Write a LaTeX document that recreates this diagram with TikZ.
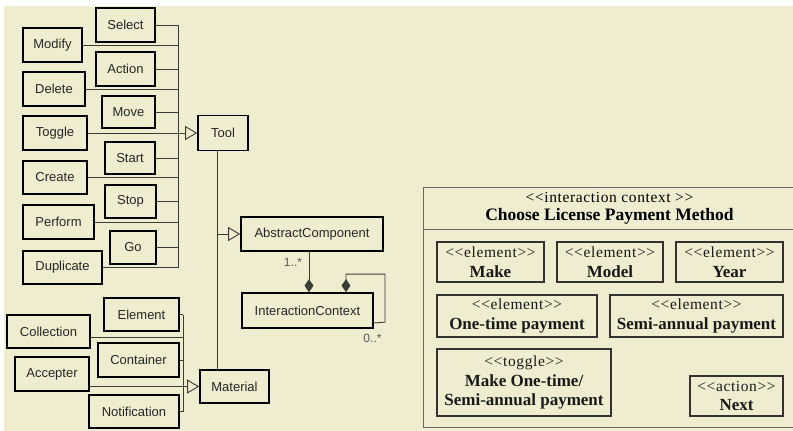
\documentclass[tikz,border=0pt]{standalone}
\usepackage{fontspec}
\setmainfont{Liberation Serif}
\setsansfont{Liberation Sans}
\newfontfamily\stereofont[LetterSpace=4]{Liberation Serif}
\usetikzlibrary{arrows.meta}
\definecolor{bgbeige}{RGB}{238,237,208}
\definecolor{linegray}{RGB}{60,60,55}
\newcommand{\stf}{\stereofont\fontsize{15.5}{20}\selectfont}
\newcommand{\nmf}{\rmfamily\bfseries\fontsize{17}{20}\selectfont}
\begin{document}
\begin{tikzpicture}[x=1pt,y=-1pt,
  umlbox/.style={draw=black, line width=1.7pt, inner sep=0pt, text=black!85,
    font=\sffamily\fontsize{13}{15}\selectfont},
  panelbox/.style={draw=black!80, line width=1.1pt, inner sep=0pt, align=center, text=black!90,
    font=\rmfamily\fontsize{17}{20.5}\selectfont},
  panelframe/.style={draw=black!60, line width=1pt, inner sep=0pt, anchor=north west},
  conn/.style={draw=linegray, line width=0.9pt},
  gen/.style={conn, -{Triangle[open, length=12pt, width=14pt]}},
  comp/.style={conn, {Diamond[length=13pt, width=9pt]}-},
  mult/.style={inner sep=0pt, text=black!65, font=\sffamily\fontsize{12}{14}\selectfont}
]
\useasboundingbox (0,0) rectangle (793,431);
\fill[white] (0,0) rectangle (793,431);
\fill[bgbeige] (4,6) rectangle (793,431);

% ---- Tool group ----
\node[umlbox, minimum width=59pt, minimum height=34pt] (select) at (125.5,25) {Select};
\node[umlbox, minimum width=59pt, minimum height=34pt] (modify) at (52.5,45) {Modify};
\node[umlbox, minimum width=59pt, minimum height=34pt] (action) at (125.5,69) {Action};
\node[umlbox, minimum width=62pt, minimum height=34pt] (delete) at (54,89) {Delete};
\node[umlbox, minimum width=53pt, minimum height=32pt] (move) at (128.5,112) {Move};
\node[umlbox, minimum width=64pt, minimum height=34pt] (toggle) at (55,133) {Toggle};
\node[umlbox, minimum width=50pt, minimum height=35pt] (tool) at (223,133) {Tool};
\node[umlbox, minimum width=50pt, minimum height=32pt] (start) at (130,158) {Start};
\node[umlbox, minimum width=64pt, minimum height=33pt] (create) at (55,177.5) {Create};
\node[umlbox, minimum width=51pt, minimum height=33pt] (stop) at (130.5,201.5) {Stop};
\node[umlbox, minimum width=71pt, minimum height=34pt] (perform) at (58.5,222) {Perform};
\node[umlbox, minimum width=46pt, minimum height=33pt] (go) at (133,247.5) {Go};
\node[umlbox, minimum width=79pt, minimum height=33pt] (duplicate) at (62.5,267.5) {Duplicate};

\coordinate (bus) at (178,0);
\foreach \n in {select,modify,action,delete,move,start,create,stop,perform,go,duplicate}
  \draw[conn] (\n.east) -- (\n.east -| bus);
\draw[conn] (select.east -| bus) -- (duplicate.east -| bus);
\draw[gen] (toggle.east) -- (tool.west);

% ---- Material group ----
\node[umlbox, minimum width=75pt, minimum height=33pt] (element) at (141.5,314.5) {Element};
\node[umlbox, minimum width=83pt, minimum height=33pt] (collection) at (48.5,331.5) {Collection};
\node[umlbox, minimum width=81pt, minimum height=34pt] (container) at (138.5,360) {Container};
\node[umlbox, minimum width=74pt, minimum height=34pt] (accepter) at (52,374) {Accepter};
\node[umlbox, minimum width=69pt, minimum height=33pt] (material) at (234.5,386.5) {Material};
\node[umlbox, minimum width=90pt, minimum height=33pt] (notification) at (134,411.5) {Notification};

\coordinate (mbus) at (183,0);
\draw[conn] (element.east) -- (element.east -| mbus);
\draw[conn] ([yshift=-5.5pt]collection.east) -- ([yshift=-5.5pt]collection.east -| mbus);
\draw[conn] (container.east) -- (container.east -| mbus);
\draw[conn] (notification.east) -- (notification.east -| mbus);
\draw[conn] (element.east -| mbus) -- (notification.east -| mbus);
\draw[gen] (accepter.east |- material.west) -- (material.west);

% ---- Trunk, AbstractComponent, InteractionContext ----
\node[umlbox, minimum width=142pt, minimum height=34pt] (ac) at (312,234) {AbstractComponent};
\node[umlbox, minimum width=131pt, minimum height=35pt] (ic) at (307.5,310.5) {InteractionContext};
\coordinate (trunk) at ([xshift=-6pt]tool.south);
\draw[conn] (trunk) -- (trunk |- material.north);
\draw[gen] (trunk |- ac.west) -- (ac.west);
\draw[comp] ([xshift=1.5pt]ic.north) -- ([xshift=1.5pt]ic.north |- ac.south);
\draw[comp] ([xshift=38.5pt]ic.north) -- ++(0,-18) -- ++(39,0) -- ++(0,48) -- ([yshift=-12.5pt]ic.east);
\node[mult] (m1) at (293,262) {1..*};
\node[mult] (m2) at (372.5,338) {0..*};

% ---- Interaction context panel ----
\node[panelframe, minimum width=372pt, minimum height=42pt, align=center,
      font=\rmfamily\fontsize{17}{17.5}\selectfont] (hdr) at (423,187)
  {{\stereofont\fontsize{15.5}{17}\selectfont <{}<interaction context >{}>}\\
   {\bfseries\fontsize{17.5}{19}\selectfont Choose License Payment Method}};
\node[panelframe, minimum width=372pt, minimum height=198pt] (body) at (423,229) {};

\node[panelbox, minimum width=107pt, minimum height=40pt] (make) at (490.5,262)
  {\stf <{}<element>{}>\\\nmf Make};
\node[panelbox, minimum width=106pt, minimum height=40pt] (model) at (610,262)
  {\stf <{}<element>{}>\\\nmf Model};
\node[panelbox, minimum width=107pt, minimum height=40pt] (year) at (729.5,262)
  {\stf <{}<element>{}>\\\nmf Year};
\node[panelbox, minimum width=160pt, minimum height=42pt] (onetime) at (517,316)
  {\stf <{}<element>{}>\\\nmf One-time payment};
\node[panelbox, minimum width=173pt, minimum height=42pt] (semi) at (696.5,316)
  {\stf <{}<element>{}>\\\nmf Semi-annual payment};
\node[panelbox, minimum width=174pt, minimum height=67pt, font=\rmfamily\fontsize{17}{19.5}\selectfont] (tog) at (524,382.5)
  {\stf <{}<toggle>{}>\\\nmf Make One-time/\\\nmf Semi-annual payment};
\node[panelbox, minimum width=93pt, minimum height=40pt, font=\rmfamily\fontsize{17}{19}\selectfont] (next) at (736.5,396)
  {\stf <{}<action>{}>\\\nmf Next};
\end{tikzpicture}
\end{document}
